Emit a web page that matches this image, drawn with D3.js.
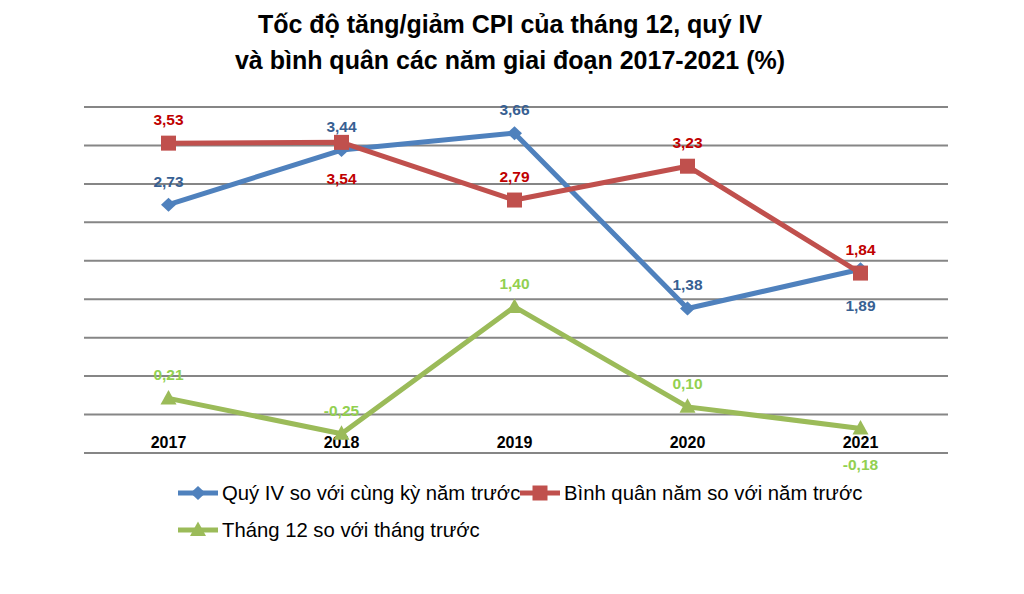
<!DOCTYPE html>
<html><head><meta charset="utf-8">
<script src="https://cdn.jsdelivr.net/npm/d3@7"></script>
<style>
html,body{margin:0;padding:0;background:#fff;}
svg{display:block;font-family:"Liberation Sans",Arial,sans-serif;}
</style></head>
<body>
<svg id="chart" width="1024" height="594"></svg>
<script>
const categories = ["2017","2018","2019","2020","2021"];
const quyIV = [2.73, 3.44, 3.66, 1.38, 1.89];
const binhQuan = [3.53, 3.54, 2.79, 3.23, 1.84];
const thang12 = [0.21, -0.25, 1.40, 0.10, -0.18];
const yTicks = [-0.5, 0, 0.5, 1, 1.5, 2, 2.5, 3, 3.5, 4];
const titleLines = ["Tốc độ tăng/giảm CPI của tháng 12, quý IV", "và bình quân các năm giai đoạn 2017-2021 (%)"];
const seriesNames = ["Quý IV so với cùng kỳ năm trước", "Bình quân năm so với năm trước", "Tháng 12 so với tháng trước"];

const series = [
  {name: seriesNames[0], values: quyIV, line: "#4f81bd", text: "#376092", marker: "diamond",
   below: [false, false, false, false, true]},
  {name: seriesNames[1], values: binhQuan, line: "#c0504d", text: "#c00000", marker: "square",
   below: [false, true, false, false, false]},
  {name: seriesNames[2], values: thang12, line: "#9bbb59", text: "#92d050", marker: "triangle",
   below: [false, false, false, false, true]}
];

const svg = d3.select("#chart");
const x = d3.scaleBand().domain(categories).range([83, 948]);
const y = d3.scaleLinear().domain([-0.5, 4]).range([453, 107]);
const cx = c => x(c) + x.bandwidth() / 2 - 1;

// title
svg.append("g").selectAll("text").data(titleLines).join("text")
  .attr("x", 510).attr("y", (d, i) => 33 + i * 36)
  .attr("text-anchor", "middle").attr("font-size", 25).attr("font-weight", "bold")
  .attr("fill", "#000").text(d => d);

// gridlines
svg.append("g").selectAll("line").data(yTicks).join("line")
  .attr("x1", 84).attr("x2", 948)
  .attr("y1", d => y(d)).attr("y2", d => y(d))
  .attr("stroke", "#868686").attr("stroke-width", 2);

// category labels
svg.append("g").selectAll("text").data(categories).join("text")
  .attr("x", d => cx(d)).attr("y", y(0) + 33)
  .attr("text-anchor", "middle").attr("font-size", 16).attr("font-weight", "bold")
  .attr("fill", "#000").text(d => d);

const symbols = {
  diamond: "M0,-7L7.5,0L0,7L-7.5,0Z",
  square: "M-7.5,-7.5H7.5V7.5H-7.5Z",
  triangle: "M0,-8.5L8,6L-8,6Z"
};

const line = d3.line().x((d, i) => cx(categories[i])).y(d => y(d));

series.forEach(s => {
  const g = svg.append("g");
  g.append("path").datum(s.values).attr("d", line)
    .attr("fill", "none").attr("stroke", s.line).attr("stroke-width", 5)
    .attr("stroke-linejoin", "round");
  g.selectAll("path.m").data(s.values).join("path").attr("class", "m")
    .attr("d", symbols[s.marker])
    .attr("transform", (d, i) => `translate(${cx(categories[i])},${y(d)})`)
    .attr("fill", s.line);
});

const fmt = v => d3.format(".2f")(v).replace(".", ",").replace("−", "-");
series.forEach(s => {
  svg.append("g").selectAll("text").data(s.values).join("text")
    .attr("x", (d, i) => cx(categories[i]))
    .attr("y", (d, i) => y(d) + (s.below[i] ? 42 : -18))
    .attr("text-anchor", "middle").attr("font-size", 15.5).attr("font-weight", "bold")
    .attr("fill", s.text).text(d => fmt(d));
});

// legend
const legendPos = [[178, 493], [520, 493], [178, 530]];
series.forEach((s, i) => {
  const [lx, ly] = legendPos[i];
  const g = svg.append("g").attr("transform", `translate(${lx},${ly})`);
  g.append("line").attr("x1", 0).attr("x2", 40).attr("y1", 0).attr("y2", 0)
    .attr("stroke", s.line).attr("stroke-width", 5);
  g.append("path").attr("d", symbols[s.marker]).attr("transform", "translate(20,0)").attr("fill", s.line);
  g.append("text").attr("x", 44).attr("y", 7).attr("font-size", 20.3)
    .attr("fill", "#000").text(s.name);
});
</script>
</body></html>
